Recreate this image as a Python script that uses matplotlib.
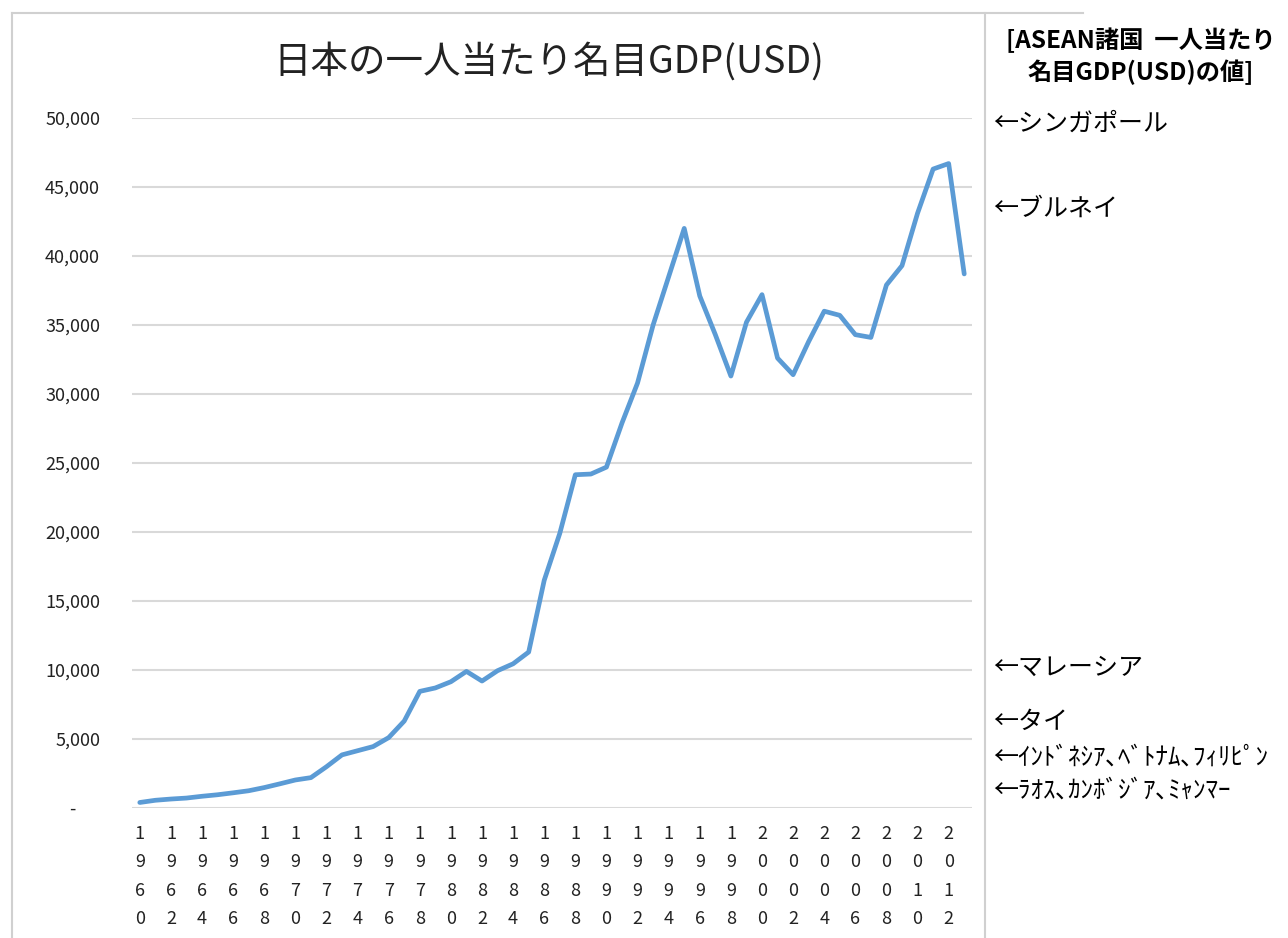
import matplotlib
matplotlib.use("Agg")
import matplotlib.pyplot as plt
from matplotlib.lines import Line2D

plt.rcParams['font.family'] = ['Noto Sans CJK JP', 'DejaVu Sans']

# Japan nominal GDP per capita (USD)
years = list(range(1960, 2014))
gdp_per_capita = [
    400, 560, 650, 720, 850, 960, 1100, 1250, 1480, 1750,
    2030, 2200, 2990, 3850, 4150, 4450, 5100, 6300, 8450, 8700,
    9150, 9900, 9200, 9950, 10450, 11300, 16500, 19900, 24150, 24200,
    24700, 27900, 30800, 35000, 38500, 42000, 37100, 34300, 31300, 35200,
    37200, 32600, 31400, 33800, 36000, 35700, 34300, 34100, 37900, 39300,
    43100, 46300, 46700, 38700,
]
y_ticks = [0, 5000, 10000, 15000, 20000, 25000, 30000, 35000, 40000, 45000, 50000]
y_tick_labels = ['-      ', '5,000', '10,000', '15,000', '20,000', '25,000',
                 '30,000', '35,000', '40,000', '45,000', '50,000']
x_tick_years = years[::2]

title = '日本の一人当たり名目GDP(USD)'
side_header = ['[ASEAN諸国  一人当たり', '名目GDP(USD)の値]']
side_notes = [
    ('←シンガポール', 18, 124),
    ('←ブルネイ', 18, 209),
    ('←マレーシア', 18, 668),
    ('←タイ', 18, 722),
    ('←ｲﾝﾄﾞﾈｼｱ､ﾍﾞﾄﾅﾑ､ﾌｨﾘﾋﾟﾝ', 18, 758),
    ('←ﾗｵｽ､ｶﾝﾎﾞｼﾞｱ､ﾐｬﾝﾏｰ', 18, 791),
]

W, H = 1288, 938
fig = plt.figure(figsize=(W / 100, H / 100), dpi=100)
ax = fig.add_axes([132 / W, 1 - 808 / H, 840 / W, 690 / H])

ax.plot(years, gdp_per_capita, color='#5b9bd5', linewidth=3.4,
        solid_joinstyle='round', solid_capstyle='round', zorder=3)

ax.set_xlim(1959.5, 2013.5)
ax.set_ylim(0, 50000)
ax.set_yticks(y_ticks)
ax.set_yticklabels(y_tick_labels, fontsize=13, color='#222222')
ax.set_xticks(x_tick_years)
ax.set_xticklabels(['\n'.join(str(y)) for y in x_tick_years],
                   fontsize=13, linespacing=1.75, color='#222222')
ax.tick_params(axis='both', length=0)
ax.tick_params(axis='y', pad=23)
ax.tick_params(axis='x', pad=12)
ax.grid(axis='y', color='#d9d9d9', linewidth=1.5, zorder=0)
for s in ax.spines.values():
    s.set_visible(False)

fig.text(549 / W, 1 - 62 / H, title, fontsize=27, ha='center', va='center',
         color='#222222')

# frame around the chart and the right-hand side panel
frame = '#d0d0d0'
fig.add_artist(Line2D([12 / W, 12 / W], [0, 1 - 13 / H], color=frame, lw=1.5))
fig.add_artist(Line2D([12 / W, 1083 / W], [1 - 13 / H, 1 - 13 / H], color=frame, lw=1.5))
fig.add_artist(Line2D([985 / W, 985 / W], [0, 1 - 13 / H], color=frame, lw=1.5))

fig.text(1141 / W, 1 - 40 / H, side_header[0], fontsize=17.5, fontweight='bold',
         ha='center', va='center')
fig.text(1141 / W, 1 - 72 / H, side_header[1], fontsize=17.5, fontweight='bold',
         ha='center', va='center')
for txt, size, ypix in side_notes:
    fig.text(993 / W, 1 - ypix / H, txt, fontsize=size, ha='left', va='center')

fig.savefig('out.png', dpi=100, facecolor='white')
